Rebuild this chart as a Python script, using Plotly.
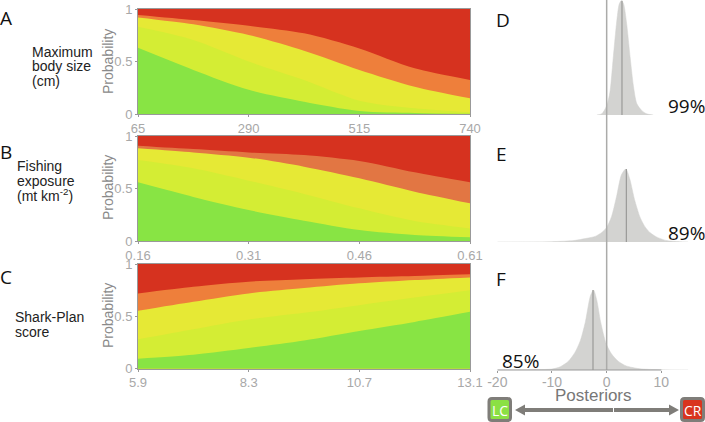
import plotly.graph_objects as go

W, H = 705, 422

# Panels A-C: x grid and cumulative upper boundaries of each risk class
ticks_a = [65, 290, 515, 740]
x_a = [65, 177.5, 290, 402.5, 515, 627.5, 740]
green_a = [0.63, 0.42, 0.23, 0.117, 0.029, 0.01, 0.002]
lime_a = [0.83, 0.705, 0.50, 0.324, 0.127, 0.054, 0.016]
yellow_a = [0.92, 0.854, 0.752, 0.603, 0.42, 0.26, 0.15]
orange_a = [0.943, 0.895, 0.84, 0.768, 0.625, 0.435, 0.324]

ticks_b = [0.16, 0.31, 0.46, 0.61]
x_b = [0.16, 0.235, 0.31, 0.385, 0.46, 0.535, 0.61]
green_b = [0.559, 0.42, 0.295, 0.194, 0.105, 0.057, 0.035]
lime_b = [0.771, 0.692, 0.575, 0.448, 0.311, 0.19, 0.12]
yellow_b = [0.883, 0.844, 0.794, 0.708, 0.597, 0.47, 0.359]
orange_b = [0.908, 0.876, 0.844, 0.819, 0.762, 0.654, 0.559]

ticks_c = [5.9, 8.3, 10.7, 13.1]
x_c = [5.9, 7.1, 8.3, 9.5, 10.7, 11.9, 13.1]
green_c = [0.096, 0.134, 0.198, 0.27, 0.361, 0.447, 0.543]
lime_c = [0.281, 0.377, 0.47, 0.534, 0.607, 0.68, 0.75]
yellow_c = [0.553, 0.639, 0.719, 0.77, 0.815, 0.847, 0.872]
orange_c = [0.719, 0.783, 0.831, 0.855, 0.872, 0.885, 0.901]

# Panels D-F: posterior densities
post_ticks = [-20, -10, 0, 10]
x_d = [-1.8, -0.9, 0, 0.6, 1.2, 1.8, 2.3, 2.7, 3.1, 3.65, 4.3, 4.9, 5.5, 6.4, 7.3, 8.5]
y_d = [0, 0.01, 0.08, 0.2, 0.5, 0.8, 0.97, 1, 0.97, 0.8, 0.5, 0.25, 0.1, 0.04, 0.01, 0]
x_e = [-20, -10, -6, -3.7, -2.1, -0.9, 0, 0.9, 1.8, 2.7, 3.5, 4.2, 5.1, 6.1, 7, 7.9, 9.1, 10.9, 13.3, 14.9]
y_e = [0, 0.005, 0.02, 0.05, 0.077, 0.13, 0.2, 0.35, 0.62, 0.92, 1, 0.87, 0.58, 0.34, 0.21, 0.13, 0.07, 0.02, 0.005, 0]
x_f = [-20, -14, -10, -8.5, -7, -5.8, -4.8, -3.9, -3, -2.4, -1.8, -1.1, -0.1, 0.9, 2.1, 3.6, 6.1, 10, 14.9]
y_f = [0, 0.004, 0.012, 0.04, 0.11, 0.22, 0.37, 0.6, 0.92, 1, 0.87, 0.6, 0.33, 0.2, 0.11, 0.05, 0.015, 0.003, 0]
medians = [2.8, 3.6, -2.5]
percent_labels = ["99%", "89%", "85%"]

RED, ORANGE, YELLOW, LIME, GREEN = "#D6321F", "#EE7F3B", "#E6E935", "#D4ED34", "#88E444"
GREY = "#A8A8A8"
SANS = "Liberation Sans"


def px(x):
    return x / W


def py(y):
    return 1 - y / H


fig = go.Figure()
panels = [
    (x_a, green_a, lime_a, yellow_a, orange_a, ticks_a, (9, 114), ORANGE),
    (x_b, green_b, lime_b, yellow_b, orange_b, ticks_b, (136, 241), "#E27643"),
    (x_c, green_c, lime_c, yellow_c, orange_c, ticks_c, (264, 368.7), ORANGE),
]
layout = {}
for i, (x, g, l, y, o, t, (top, bot), oc) in enumerate(panels, start=1):
    xa, ya = f"x{i}", f"y{i}"
    for vals, c in [([1] * len(x), RED), (o, oc), (y, YELLOW), (l, LIME), (g, GREEN)]:
        fig.add_trace(go.Scatter(x=x, y=vals, xaxis=xa, yaxis=ya, mode="lines", fill="tozeroy",
                                 fillcolor=c, line=dict(width=0, shape="spline", smoothing=0.8, color=c),
                                 hoverinfo="skip", showlegend=False))
    layout[f"xaxis{i}"] = dict(domain=[px(138), px(470)], anchor=ya, range=[t[0], t[-1]], tickvals=t,
                               ticktext=[str(v) for v in t], showline=True, linecolor="#999", linewidth=1,
                               mirror=True, ticks="outside", ticklen=2, tickcolor="#999", showgrid=False,
                               zeroline=False, automargin=False, tickfont=dict(family=SANS, size=13, color=GREY))
    layout[f"yaxis{i}"] = dict(domain=[py(bot), py(top)], anchor=xa, range=[0, 1], tickvals=[0, 0.5, 1],
                               ticktext=["0", "0.5", "1"], showline=True, linecolor="#999", linewidth=1,
                               mirror=True, ticks="outside", ticklen=2, tickcolor="#999", showgrid=False,
                               zeroline=False, automargin=False, tickfont=dict(family=SANS, size=13, color=GREY))

dens = [(x_d, y_d, (0.5, 115)), (x_e, y_e, (169, 242)), (x_f, y_f, (290, 370))]
for j, (x, y, (top, bot)) in enumerate(dens):
    i = 4 + j
    fig.add_trace(go.Scatter(x=x, y=y, xaxis="x4", yaxis=f"y{i}", mode="lines", fill="tozeroy",
                             fillcolor="#D3D3D1", line=dict(width=0.5, color="#D3D3D1", shape="spline", smoothing=0.7),
                             hoverinfo="skip", showlegend=False))
    fig.add_trace(go.Scatter(x=[medians[j], medians[j]], y=[0, 1], xaxis="x4", yaxis=f"y{i}", mode="lines",
                             line=dict(width=1.2, color="#9A9A98"), hoverinfo="skip", showlegend=False))
    layout[f"yaxis{i}"] = dict(domain=[py(bot), py(top)], anchor="x4", range=[0, 1], visible=False)

layout["xaxis4"] = dict(domain=[px(497.3), px(688.7)], anchor="y6", range=[-20, 15], tickvals=post_ticks,
                        ticktext=[str(v) for v in post_ticks], showgrid=False, zeroline=False, showline=False,
                        automargin=False, ticks="outside", ticklen=2, tickcolor="#999", ticklabelstandoff=-3,
                        tickfont=dict(family=SANS, size=14, color=GREY))

shapes = [
    dict(type="line", xref="x4", yref="paper", x0=0, x1=0, y0=py(370), y1=1, line=dict(color="#ABABA9", width=1.5)),
    dict(type="line", xref="x4", yref="paper", x0=post_ticks[0], x1=post_ticks[-1], y0=py(370), y1=py(370),
         line=dict(color="#999", width=1)),
]


def box(x0, x1, y0, y1, fill):
    r = 3
    path = (f"M {px(x0+r)} {py(y0)} L {px(x1-r)} {py(y0)} Q {px(x1)} {py(y0)} {px(x1)} {py(y0+r)} "
            f"L {px(x1)} {py(y1-r)} Q {px(x1)} {py(y1)} {px(x1-r)} {py(y1)} L {px(x0+r)} {py(y1)} "
            f"Q {px(x0)} {py(y1)} {px(x0)} {py(y1-r)} L {px(x0)} {py(y0+r)} Q {px(x0)} {py(y0)} {px(x0+r)} {py(y0)} Z")
    return dict(type="path", xref="paper", yref="paper", path=path, fillcolor=fill,
                line=dict(color="#7F7D79", width=3))


def arrow(tip, base, end):
    """Single-headed arrow along the y=410 row: head at tip, shaft from base to end."""
    path = (f"M {px(tip)} {py(410)} L {px(base)} {py(404.5)} L {px(base)} {py(408)} L {px(end)} {py(408)} "
            f"L {px(end)} {py(412)} L {px(base)} {py(412)} L {px(base)} {py(415.5)} Z")
    return dict(type="path", xref="paper", yref="paper", path=path, fillcolor="#7F7D79", line=dict(width=0))


shapes += [box(489, 510.5, 398.5, 420.5, "#8BE044"), box(681.5, 703.5, 398.5, 420.5, "#D9341F"),
           arrow(515, 525, 613), arrow(679, 669, 614)]

ann = []


def text(x, y, s, size=14, color="#222", family=SANS, xanchor="left", angle=0):
    # annotations carry about 2px of inner padding; offset the left-anchored ones by it
    dx = -2 if xanchor == "left" else 0
    ann.append(dict(xref="paper", yref="paper", x=px(x + dx), y=py(y), text=s, showarrow=False, xanchor=xanchor,
                    yanchor="middle", textangle=angle, font=dict(family=family, size=size, color=color)))


OPEN = "Open Sans"
for s, x, y in [("A", 0, 18), ("B", 0, 152), ("C", 0, 277), ("D", 496, 20), ("E", 496, 154), ("F", 496, 279)]:
    text(x, y, s, 19, "#111", OPEN)
for y in [62, 188, 316]:
    text(108, y, "Probability", 14, "#8a8a8a", SANS, "center", -90)
text(32, 52, "Maximum")
text(32, 66, "body size")
text(32, 81, "(cm)")
text(17, 166, "Fishing")
text(17, 181, "exposure")
text(17, 195, "(mt km<sup>-2</sup>)")
text(15, 317, "Shark-Plan")
text(15, 332, "score")
text(668, 106, percent_labels[0], 19, "#111", OPEN)
text(668, 233, percent_labels[1], 19, "#111", OPEN)
text(501.5, 361, percent_labels[2], 19, "#111", OPEN)
text(593.5, 395, "Posteriors", 17, "#777", SANS, "center")
text(500, 410, "LC", 14, "#fff", OPEN, "center")
text(692.5, 410, "CR", 14, "#fff", OPEN, "center")

fig.update_layout(width=W, height=H, margin=dict(l=0, r=0, t=0, b=0, autoexpand=False), paper_bgcolor="white",
                  plot_bgcolor="white", showlegend=False, shapes=shapes, annotations=ann, **layout)
fig.write_html("out.html", config={"displayModeBar": False}, post_script="document.body.style.margin='0';")
